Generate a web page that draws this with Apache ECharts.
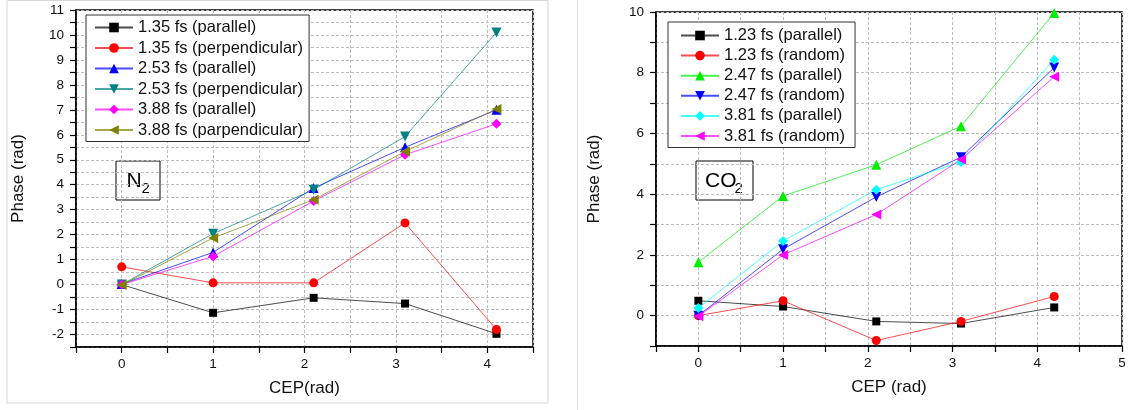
<!DOCTYPE html>
<html><head><meta charset="utf-8">
<script src="https://cdn.jsdelivr.net/npm/echarts@6/dist/echarts.min.js"></script>
<style>html,body{margin:0;padding:0;background:#fff}#c{width:1134px;height:410px}</style>
</head><body><div id="c"></div>
<script>
// ---- N2 panel data ----
const n2Cep = [0, 1, 2.1, 3.1, 4.1];
const n2Names = ['1.35 fs (parallel)', '1.35 fs (perpendicular)', '2.53 fs (parallel)', '2.53 fs (perpendicular)', '3.88 fs (parallel)', '3.88 fs (parpendicular)'];
const n2_135par  = [0, -1.13, -0.53, -0.76, -1.97];
const n2_135perp = [0.71, 0.07, 0.07, 2.47, -1.8];
const n2_253par  = [0.02, 1.29, 3.87, 5.5, 7.0];
const n2_253perp = [0, 2.04, 3.8, 5.93, 10.1];
const n2_388par  = [0, 1.13, 3.35, 5.2, 6.44];
const n2_388perp = [-0.02, 1.87, 3.4, 5.33, 7.03];

// ---- CO2 panel data ----
const co2Cep = [0, 1, 2.1, 3.1, 4.2];
const co2Names = ['1.23 fs (parallel)', '1.23 fs (random)', '2.47 fs (parallel)', '2.47 fs (random)', '3.81 fs (parallel)', '3.81 fs (random)'];
const co2_123par  = [0.49, 0.3, -0.19, -0.26, 0.27];
const co2_123rand = [0, 0.49, -0.82, -0.19, 0.63];
const co2_247par  = [1.76, 3.94, 4.97, 6.24, 9.97];
const co2_247rand = [0, 2.19, 3.91, 5.22, 8.17];
const co2_381par  = [0.25, 2.46, 4.15, 5.06, 8.43];
const co2_381rand = [-0.02, 2.0, 3.33, 5.14, 7.87];

// ---- styles ----
const SQ = 'rect', CI = 'circle', UP = 'triangle', DN = 'path://M0,0L10,0L5,9Z', DI = 'diamond', LT = 'path://M0,5L9,0L9,10Z';
const n2Styles = [
  {c:'#000000', s:SQ, z:8}, {c:'#ff0000', s:CI, z:9}, {c:'#0000ff', s:UP, z:10},
  {c:'#008080', s:DN, z:10}, {c:'#ff00ff', s:DI, z:10}, {c:'#808000', s:LT, z:10}
];
const co2Styles = [
  {c:'#000000', s:SQ, z:8}, {c:'#ff0000', s:CI, z:9}, {c:'#00ee00', s:UP, z:10},
  {c:'#0000ff', s:DN, z:10}, {c:'#00ffff', s:DI, z:10}, {c:'#ff00ff', s:LT, z:10}
];
const n2Vals = [n2_135par, n2_135perp, n2_253par, n2_253perp, n2_388par, n2_388perp];
const co2Vals = [co2_123par, co2_123rand, co2_247par, co2_247rand, co2_381par, co2_381rand];

const FONT = 'Arial, "Liberation Sans", sans-serif';

function mkSeries(names, xs, vals, styles, idx) {
  return names.map((n, i) => ({
    name: n, type: 'line', xAxisIndex: idx, yAxisIndex: idx,
    data: xs.map((x, k) => [x, vals[i][k]]),
    symbol: styles[i].s, symbolSize: styles[i].z,
    itemStyle: {color: styles[i].c, borderWidth: 0},
    lineStyle: {color: styles[i].c, width: 1, opacity: 0.7},
    showAllSymbol: true, animation: false, silent: true
  }));
}

const dashed = {show: true, lineStyle: {color: '#bdbdbd', type: [3, 2], width: 1}};
function xAx(idx, min, max, name) {
  return {
    type: 'value', gridIndex: idx, min: min, max: max, interval: 0.5,
    axisLine: {show: true, onZero: false, lineStyle: {color: '#000', width: 1.5}},
    axisTick: {show: true, length: 6, lineStyle: {color: '#000', width: 1.2}},
    axisLabel: {color: '#111', fontSize: 13.5, fontFamily: FONT, margin: 10,
      formatter: v => Number.isInteger(v) ? String(v) : ''},
    splitLine: dashed,
    name: name, nameLocation: 'middle', nameGap: 33,
    nameTextStyle: {fontSize: 17, fontFamily: FONT, color: '#111'}
  };
}
function yAx(idx, min, max, interval, fmt, gap) {
  return {
    type: 'value', gridIndex: idx, min: min, max: max, interval: interval,
    axisLine: {show: true, onZero: false, lineStyle: {color: '#000', width: 1.5}},
    axisTick: {show: true, length: 6, lineStyle: {color: '#000', width: 1.2}},
    axisLabel: {color: '#111', fontSize: 13.5, fontFamily: FONT, margin: 12, formatter: fmt},
    splitLine: dashed,
    name: 'Phase (rad)', nameLocation: 'middle', nameGap: gap, nameRotate: 90,
    nameTextStyle: {fontSize: 17, fontFamily: FONT, color: '#111'}
  };
}

function legend(names, left, top, gap, pad) {
  return {
    data: names, orient: 'vertical', left: left, top: top,
    itemWidth: 38, itemHeight: 12, itemGap: gap, padding: pad,
    borderColor: '#333', borderWidth: 1, backgroundColor: '#fff',
    textStyle: {fontSize: 16.5, fontFamily: FONT, color: '#111', lineHeight: 16},
    selectedMode: false
  };
}

function label(x, y, w, h, main, mainX, subX) {
  return {
    type: 'group', children: [
      {type: 'rect', shape: {x: x, y: y, width: w, height: h}, style: {fill: '#fff', stroke: '#000', lineWidth: 1}},
      {type: 'text', x: mainX, y: y + 20, style: {text: main, fontSize: 21, fontFamily: FONT, fill: '#000', align: 'left', verticalAlign: 'middle'}},
      {type: 'text', x: subX, y: y + 28, style: {text: '2', fontSize: 15, fontFamily: FONT, fill: '#000', align: 'left', verticalAlign: 'middle'}}
    ]
  };
}

const chart = echarts.init(document.getElementById('c'), null, {renderer: 'canvas'});
chart.setOption({
  backgroundColor: '#fff',
  animation: false,
  grid: [
    {left: 76, top: 10, right: 601, bottom: 63, show: true, borderColor: '#000', borderWidth: 1.5, backgroundColor: 'transparent'},
    {left: 656, top: 12, right: 12, bottom: 64, show: true, borderColor: '#000', borderWidth: 1.5, backgroundColor: 'transparent'}
  ],
  xAxis: [xAx(0, -0.5, 4.5, 'CEP(rad)'), xAx(1, -0.5, 5, 'CEP (rad)')],
  yAxis: [
    yAx(0, -2.5, 11, 0.5, v => Number.isInteger(v) ? String(v) : '', 49),
    yAx(1, -1, 10, 1, v => (v % 2 === 0) ? String(v) : '', 53)
  ],
  legend: [
    legend(n2Names, 86, 15, 3.5, [4, 6, 3, 8]),
    legend(co2Names, 668, 22, 3.1, [5, 10, 3, 12])
  ],
  series: [].concat(mkSeries(n2Names, n2Cep, n2Vals, n2Styles, 0), mkSeries(co2Names, co2Cep, co2Vals, co2Styles, 1)),
  graphic: [
    {type: 'rect', z: -10, shape: {x: 7, y: 0.5, width: 541, height: 402.5}, style: {fill: 'none', stroke: '#d6d6d6', lineWidth: 1}},
    {type: 'line', z: -10, shape: {x1: 577.5, y1: 0, x2: 577.5, y2: 410}, style: {stroke: '#e2e2e2', lineWidth: 1}},
    label(116, 161, 44, 39, 'N', 126.5, 141.5),
    label(696, 161, 57, 39, 'CO', 705, 734.5)
  ]
});
</script>
</body></html>
